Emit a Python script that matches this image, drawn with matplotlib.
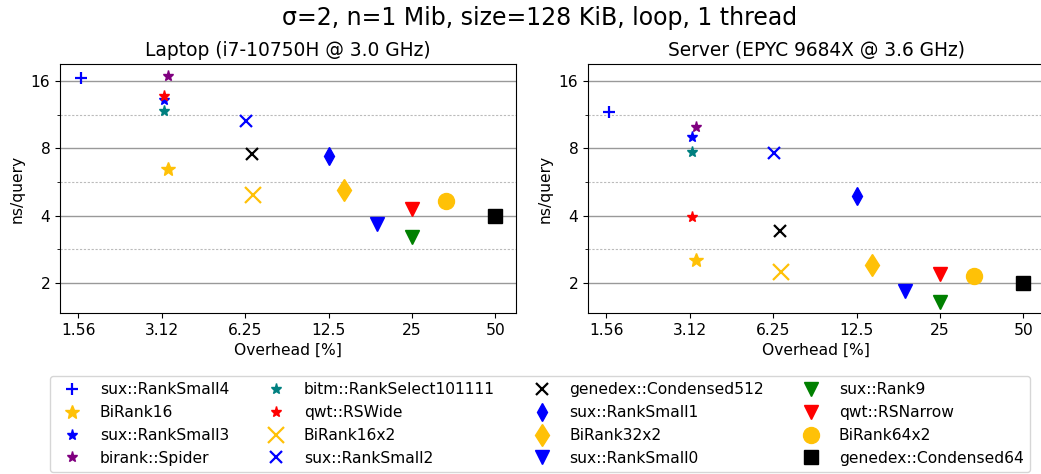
import matplotlib
matplotlib.use("Agg")
import matplotlib.pyplot as plt
from matplotlib.ticker import FixedLocator, NullFormatter, NullLocator

# ---- data ----
names = ["sux::RankSmall4", "BiRank16", "sux::RankSmall3", "birank::Spider",
         "bitm::RankSelect101111", "qwt::RSWide", "BiRank16x2", "sux::RankSmall2",
         "genedex::Condensed512", "sux::RankSmall1", "BiRank32x2", "sux::RankSmall0",
         "sux::Rank9", "qwt::RSNarrow", "BiRank64x2", "genedex::Condensed64"]
overhead = [1.60, 3.30, 3.19, 3.30,
            3.19, 3.19, 6.65, 6.28,
            6.60, 12.56, 14.25, 18.7,
            25.0, 25.0, 33.2, 50.0]
laptop_ns = [16.6, 6.46, 13.2, 16.9,
             11.8, 13.7, 4.98, 10.66,
             7.55, 7.42, 5.22, 3.67,
             3.20, 4.30, 4.64, 3.98]
server_ns = [11.6, 2.53, 9.04, 10.0,
             7.75, 3.94, 2.24, 7.67,
             3.41, 4.90, 2.41, 1.85,
             1.65, 2.19, 2.16, 2.00]

# ---- style ----
GOLD = "#FFC107"
colors = ["blue", GOLD, "blue", "purple",
          "teal", "red", GOLD, "blue",
          "black", "blue", GOLD, "blue",
          "green", "red", GOLD, "black"]
markers = ["+", "*", "*", "*",
           "*", "*", "x", "x",
           "x", "d", "d", "v",
           "v", "v", "o", "s"]
msizes = [8, 10.5, 8, 8,
          8, 8, 11, 9,
          8.5, 8.7, 11.2, 9.8,
          9.8, 9.8, 11.5, 9.6]

xticks = [1.5625, 3.125, 6.25, 12.5, 25, 50]
xticklabels = ["1.56", "3.12", "6.25", "12.5", "25", "50"]
yticks = [2, 4, 8, 16]
yticklabels = ["2", "4", "8", "16"]
yminor = [2 * 2 ** 0.5, 4 * 2 ** 0.5, 8 * 2 ** 0.5]

FS = 11.2
W, H = 1041, 474
fig = plt.figure(figsize=(W / 100, H / 100), dpi=100)

def ax_rect(x0, y0, x1, y1):
    return [x0 / W, 1 - y1 / H, (x1 - x0) / W, (y1 - y0) / H]

ax1 = fig.add_axes(ax_rect(60, 64, 516, 313))
ax2 = fig.add_axes(ax_rect(588, 64, 1044, 313))

handles = []
for ax, vals, title in [(ax1, laptop_ns, "Laptop (i7-10750H @ 3.0 GHz)"),
                        (ax2, server_ns, "Server (EPYC 9684X @ 3.6 GHz)")]:
    ax.set_xscale("log", base=2)
    ax.set_yscale("log", base=2)
    ax.set_xlim(1.34, 59.4)
    ax.set_ylim(1.47, 19.1)
    hs = []
    for i in range(len(names)):
        mew = 1.6 if markers[i] in ("+", "x") else 1.0
        h, = ax.plot([overhead[i]], [vals[i]], linestyle="none", marker=markers[i],
                     color=colors[i], markersize=msizes[i], markeredgewidth=mew,
                     label=names[i], zorder=3)
        hs.append(h)
    handles = hs
    ax.xaxis.set_major_locator(FixedLocator(xticks))
    ax.set_xticklabels(xticklabels, fontsize=FS)
    ax.xaxis.set_minor_locator(NullLocator())
    ax.yaxis.set_major_locator(FixedLocator(yticks))
    ax.set_yticklabels(yticklabels, fontsize=FS)
    ax.yaxis.set_minor_locator(FixedLocator(yminor))
    ax.yaxis.set_minor_formatter(NullFormatter())
    ax.grid(True, which="major", axis="y", color="#999999", linewidth=1.0, zorder=0)
    ax.grid(True, which="minor", axis="y", color="#bbbbbb", linewidth=0.8,
            linestyle=(0, (2, 1.5)), zorder=0)
    ax.set_axisbelow(True)
    ax.set_xlabel("Overhead [%]", fontsize=FS)
    ax.set_ylabel("ns/query", fontsize=FS)
    ax.set_title(title, fontsize=FS * 1.2)

fig.text(540 / W, 1 - 18 / H, "σ=2, n=1 Mib, size=128 KiB, loop, 1 thread",
         fontsize=17, ha="center", va="center")

fig.legend(handles=handles, labels=names, ncol=4, loc="lower center",
           bbox_to_anchor=(540 / W, 1 - 472 / H), fontsize=FS, frameon=True,
           borderaxespad=0)

fig.savefig("out.png", dpi=100)
